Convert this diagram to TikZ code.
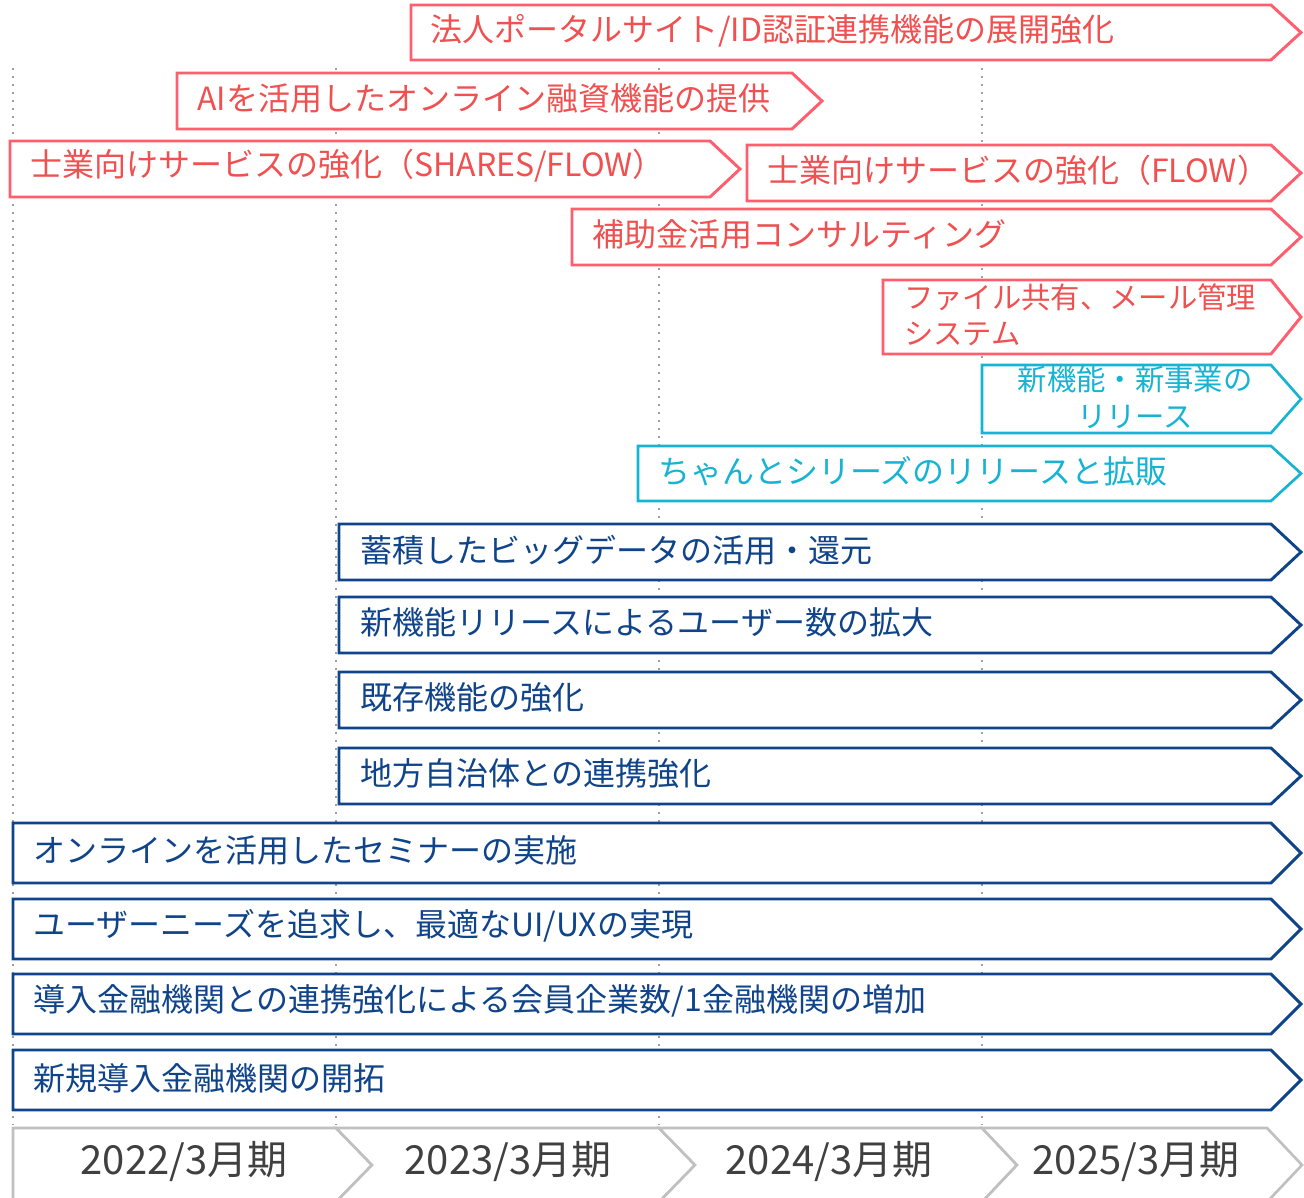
\documentclass[tikz,border=0pt]{standalone}
\usepackage{fontspec}
\setmainfont{Noto Sans CJK JP}
\usetikzlibrary{positioning}
\definecolor{planred}{RGB}{255,94,110}
\definecolor{planredtext}{RGB}{240,80,80}
\definecolor{plannavy}{RGB}{16,68,138}
\definecolor{plancyan}{RGB}{22,180,210}
\definecolor{plangray}{RGB}{192,192,192}
\definecolor{plantext}{RGB}{64,64,64}
\tikzset{red bar/.style={draw=planred, line width=2.2pt, fill=white, line join=miter},
  navy bar/.style={draw=plannavy, line width=2.2pt, fill=white, line join=miter},
  cyan bar/.style={draw=plancyan, line width=2pt, fill=white, line join=miter},
  year bar/.style={draw=plangray, line width=2pt, fill=white},
  grid line/.style={draw=gray!75, line width=1.3pt, dash pattern=on 1.3pt off 4.7pt},
  bar label/.style={anchor=west, inner sep=0pt, font=\fontsize{24}{28}\selectfont},
  red label/.style={bar label, text=planredtext},
  navy label/.style={bar label, text=plannavy},
  cyan label/.style={bar label, text=plancyan},
  year label/.style={inner sep=0pt, text=plantext, font=\fontsize{30}{34}\selectfont},
}
% pentagon bar: style, left x, top y, tip x, bottom y
\newcommand{\planbar}[5]{%
  \draw[#1] (#2,#3) -- ({#4-30},#3) -- (#4,{(#3+#5)/2}) -- ({#4-30},#5) -- (#2,#5) -- cycle;}
\begin{document}
\begin{tikzpicture}[x=0.75pt,y=-0.75pt]
  \useasboundingbox (0,0) rectangle (1304,1198);

  % period grid
  \foreach \x in {13,336,659,982}
    \draw[grid line] (\x,68) -- (\x,1125);

  % red plans
  \planbar{red bar}{411}{5}{1301}{60}
  \planbar{red bar}{177}{73}{822}{129}
  \planbar{red bar}{10}{141}{740}{197}
  \planbar{red bar}{747}{145}{1301}{201}
  \planbar{red bar}{572}{209}{1301}{265}
  \planbar{red bar}{883}{280}{1301}{354}
  \node[red label] (portal) at (430,31) {法人ポータルサイト/ID認証連携機能の展開強化};
  \node[red label] (loan) at (197,98) {AIを活用したオンライン融資機能の提供};
  \node[red label] (shares) at (30,166) {士業向けサービスの強化（SHARES/FLOW）};
  \node[red label] (flow) at (767,170) {士業向けサービスの強化（FLOW）};
  \node[red label] (subsidy) at (592,234) {補助金活用コンサルティング};
  \node[red label, align=left, font=\fontsize{22}{27}\selectfont] (fileshare) at (904,315)
    {ファイル共有、メール管理\\システム};

  % cyan plans
  \planbar{cyan bar}{982}{365}{1301}{433}
  \planbar{cyan bar}{638}{446}{1301}{501}
  \node[cyan label, anchor=center, align=center, font=\fontsize{22}{27.5}\selectfont] (newbiz) at (1135,397)
    {新機能・新事業の\\リリース};
  \node[cyan label] (chanto) at (658,471) {ちゃんとシリーズのリリースと拡販};

  % navy plans
  \planbar{navy bar}{339}{524}{1301}{580}
  \planbar{navy bar}{339}{597}{1301}{653}
  \planbar{navy bar}{339}{672}{1301}{728}
  \planbar{navy bar}{339}{748}{1301}{804}
  \planbar{navy bar}{13}{823}{1301}{883}
  \planbar{navy bar}{13}{899}{1301}{959}
  \planbar{navy bar}{13}{974}{1301}{1034}
  \planbar{navy bar}{13}{1050}{1301}{1110}
  \node[navy label] (bigdata) at (360,550) {蓄積したビッグデータの活用・還元};
  \node[navy label] (users) at (360,622) {新機能リリースによるユーザー数の拡大};
  \node[navy label] (existing) at (360,697) {既存機能の強化};
  \node[navy label] (local) at (360,773) {地方自治体との連携強化};
  \node[navy label] (seminar) at (33,850) {オンラインを活用したセミナーの実施};
  \node[navy label] (uiux) at (33,926) {ユーザーニーズを追求し、最適なUI/UXの実現};
  \node[navy label] (members) at (33,1001) {導入金融機関との連携強化による会員企業数/1金融機関の増加};
  \node[navy label] (newbank) at (33,1078) {新規導入金融機関の開拓};

  % fiscal years
  \draw[year bar] (13,1128) -- (336,1128) -- (372,1165) -- (336,1202) -- (13,1202) -- cycle;
  \draw[year bar] (336,1128) -- (659,1128) -- (695,1165) -- (659,1202) -- (336,1202) -- (372,1165) -- cycle;
  \draw[year bar] (659,1128) -- (982,1128) -- (1017,1165) -- (982,1202) -- (659,1202) -- (695,1165) -- cycle;
  \draw[year bar] (982,1128) -- (1267,1128) -- (1302,1165) -- (1267,1202) -- (982,1202) -- (1017,1165) -- cycle;
  \node[year label] (fy22) at (184,1162) {2022/3月期};
  \node[year label] (fy23) at (508,1162) {2023/3月期};
  \node[year label] (fy24) at (829,1162) {2024/3月期};
  \node[year label] (fy25) at (1136,1162) {2025/3月期};
\end{tikzpicture}
\end{document}
